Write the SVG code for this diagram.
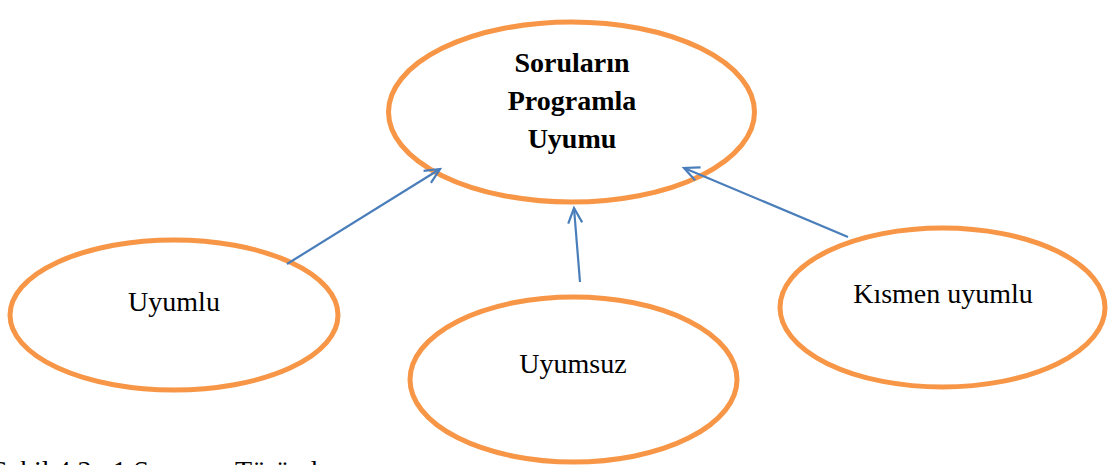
<svg xmlns="http://www.w3.org/2000/svg" width="1111" height="465" viewBox="0 0 1111 465">
<style>
.node{fill:#ffffff;stroke:#F79646;stroke-width:5}
.lbl{font-family:"Liberation Serif","Times New Roman",serif;font-size:28px;fill:#000;text-anchor:middle}
.bold{font-weight:bold}
.conn{stroke:#4A7EBB;stroke-width:2.2;fill:none}
</style>
<defs>
<marker id="arr" markerUnits="userSpaceOnUse" viewBox="-18 -9 20 18" refX="0" refY="0" markerWidth="20" markerHeight="18" orient="auto" overflow="visible">
<path d="M-15,-7 L0,0 L-15,7" fill="none" stroke="#4A7EBB" stroke-width="2.2"/>
</marker>
</defs>
<rect width="1111" height="465" fill="#ffffff"/>
<g id="node-main">
<ellipse class="node" cx="571.5" cy="112" rx="183" ry="90"/>
<text class="lbl bold" x="572" y="72">Soruların</text>
<text class="lbl bold" x="572" y="110">Programla</text>
<text class="lbl bold" x="572" y="148">Uyumu</text>
</g>
<g id="node-uyumlu">
<ellipse class="node" cx="174" cy="315" rx="164" ry="75"/>
<text class="lbl" x="174" y="311">Uyumlu</text>
</g>
<g id="node-uyumsuz">
<ellipse class="node" cx="573.5" cy="379.5" rx="163.5" ry="82.5"/>
<text class="lbl" x="573" y="373">Uyumsuz</text>
</g>
<g id="node-kismen">
<ellipse class="node" cx="942.5" cy="307.5" rx="162.5" ry="79.5"/>
<text class="lbl" x="943" y="303">Kısmen uyumlu</text>
</g>
<g id="connectors">
<line class="conn" x1="287" y1="264" x2="440" y2="169" marker-end="url(#arr)"/>
<line class="conn" x1="580" y1="282" x2="574" y2="208" marker-end="url(#arr)"/>
<line class="conn" x1="848" y1="237" x2="684" y2="168" marker-end="url(#arr)"/>
</g>
<text x="-8" y="480" font-family="Liberation Serif, Times New Roman, serif" font-size="28" fill="#000">Şekil 4.3 . 1 Sorunun Türünde</text>
</svg>
